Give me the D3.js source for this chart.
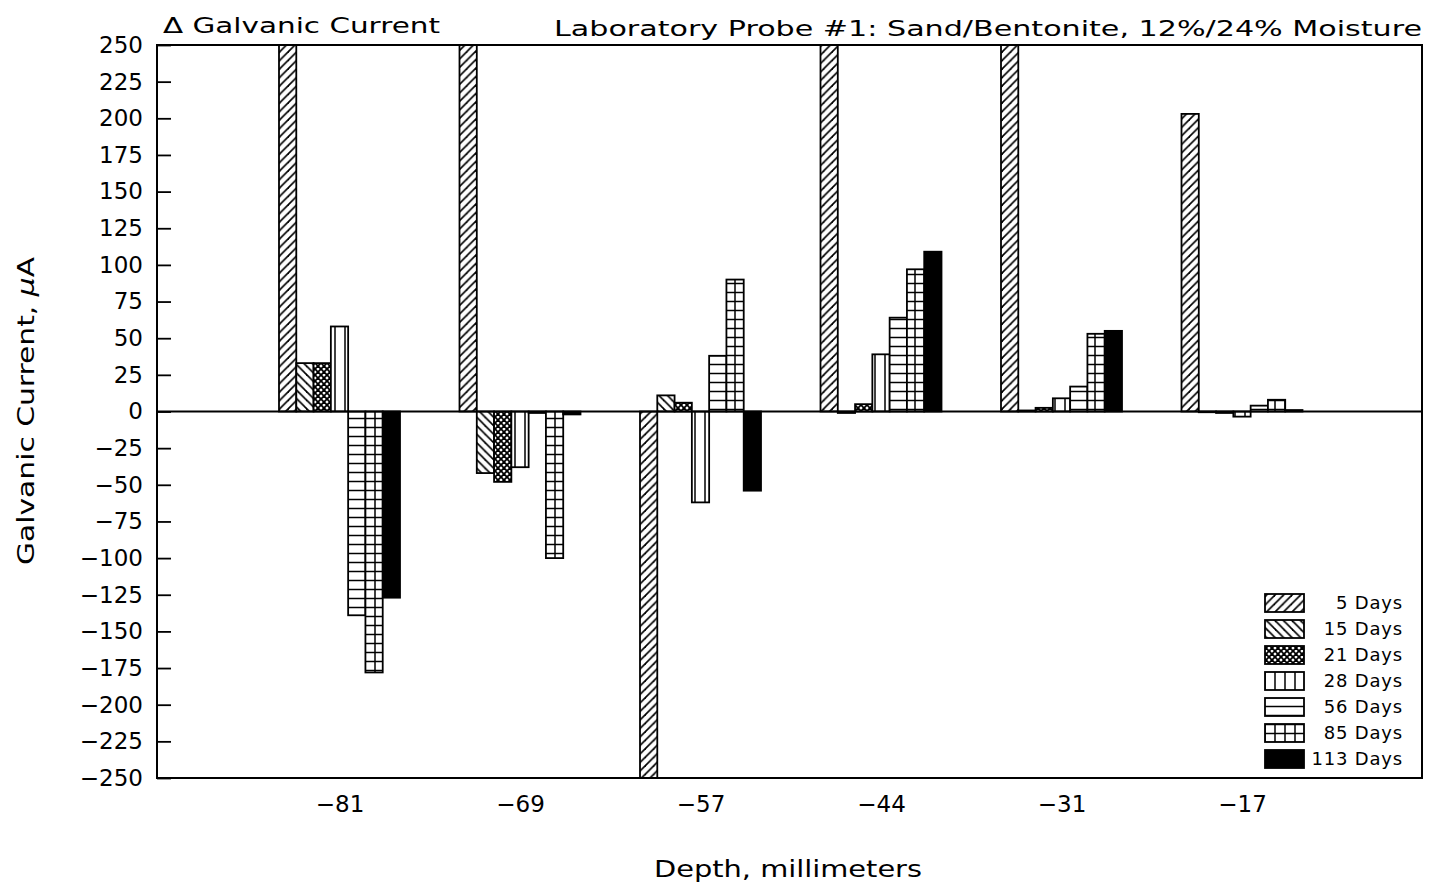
<!DOCTYPE html>
<html>
<head>
<meta charset="utf-8">
<script src="https://cdn.jsdelivr.net/npm/d3@7"></script>
<style>
  body { margin: 0; background: #fff; }
  text { font-family: "DejaVu Sans", sans-serif; fill: #000; }
</style>
</head>
<body>
<svg id="chart" width="1432" height="887"></svg>
<script>
// Probe depths (mm) and change in galvanic current (µA) per exposure period
const depths = [-81, -69, -57, -44, -31, -17];
const seriesNames = ["5 Days", "15 Days", "21 Days", "28 Days", "56 Days", "85 Days", "113 Days"];
const days5   = [300, 300, -300, 300, 300, 203];
const days15  = [33, -42, 11, -1, 0.7, -0.5];
const days21  = [33, -48, 6, 5, 2.5, -1];
const days28  = [58, -38, -62, 39, 9, -3.5];
const days56  = [-139, -1, 38, 64, 17, 4];
const days85  = [-178, -100, 90, 97, 53, 8];
const days113 = [-127, -2, -54, 109, 55, 1];
const yTicks = d3.range(-250, 251, 25);

const series = [days5, days15, days21, days28, days56, days85, days113];
const patternIds = ["p5", "p15", "p21", "p28", "p56", "p85", "p113"];

const svg = d3.select("#chart");
const plotL = 157, plotR = 1422, plotT = 45, plotB = 778;

// Depth groups are evenly spaced across the frame, one empty slot at each end
const x = d3.scalePoint().domain(depths).range([plotL + 182.5, plotR - 180]);
const groupW = 121;
const xSub = d3.scaleBand().domain(seriesNames).range([-groupW / 2, groupW / 2]);
const y = d3.scaleLinear().domain([-250, 250]).range([plotB, plotT]).clamp(true);

// Hatch fills
const defs = svg.append("defs");
function pat(id, w, h, draw) {
  const p = defs.append("pattern").attr("id", id)
    .attr("patternUnits", "userSpaceOnUse").attr("width", w).attr("height", h);
  p.append("rect").attr("width", w).attr("height", h).attr("fill", "#fff");
  draw(p);
}
const ln = (p, x1, y1, x2, y2, sw) => p.append("line")
  .attr("x1", x1).attr("y1", y1).attr("x2", x2).attr("y2", y2)
  .attr("stroke", "#000").attr("stroke-width", sw);
pat("p5", 8.5, 8.5, p => { ln(p, 0, 8.5, 8.5, 0, 1.7); ln(p, -2, 2, 2, -2, 1.7); ln(p, 6.5, 10.5, 10.5, 6.5, 1.7); });
pat("p15", 8.5, 8.5, p => { ln(p, 0, 0, 8.5, 8.5, 1.7); ln(p, -2, 6.5, 2, 10.5, 1.7); ln(p, 6.5, -2, 10.5, 2, 1.7); });
pat("p21", 6, 6, p => {
  ln(p, 0, 6, 6, 0, 1.8); ln(p, -1, 1, 1, -1, 1.8); ln(p, 5, 7, 7, 5, 1.8);
  ln(p, 0, 0, 6, 6, 1.8); ln(p, -1, 5, 1, 7, 1.8); ln(p, 5, -1, 7, 1, 1.8);
});
pat("p28", 10, 10, p => { ln(p, 5, 0, 5, 10, 1.5); });
pat("p56", 10, 9, p => { ln(p, 0, 4.5, 10, 4.5, 1.5); });
pat("p85", 10, 9, p => { ln(p, 5, 0, 5, 9, 1.5); ln(p, 0, 4.5, 10, 4.5, 1.5); });
defs.append("clipPath").attr("id", "plotClip").append("rect")
  .attr("x", plotL).attr("y", plotT).attr("width", plotR - plotL).attr("height", plotB - plotT);

const fillFor = i => i === 6 ? "#000" : `url(#${patternIds[i]})`;

// Bars
const bars = svg.append("g").attr("clip-path", "url(#plotClip)");
series.forEach((vals, si) => {
  bars.selectAll(null).data(vals.map((v, di) => ({ v, d: depths[di] })))
    .join("rect")
    .attr("x", d => x(d.d) + xSub(seriesNames[si]))
    .attr("width", xSub.bandwidth())
    .attr("y", d => Math.min(y(d.v), y(0)))
    .attr("height", d => Math.abs(y(d.v) - y(0)))
    .attr("fill", fillFor(si))
    .attr("stroke", "#000")
    .attr("stroke-width", 1.8);
});

// Zero line
svg.append("line").attr("x1", plotL).attr("x2", plotR)
  .attr("y1", y(0)).attr("y2", y(0)).attr("stroke", "#000").attr("stroke-width", 2);

// Frame
svg.append("rect").attr("x", plotL).attr("y", plotT)
  .attr("width", plotR - plotL).attr("height", plotB - plotT)
  .attr("fill", "none").attr("stroke", "#000").attr("stroke-width", 2);

// Y axis
const yAxis = svg.append("g").attr("transform", `translate(${plotL},0)`)
  .call(d3.axisLeft(y).tickValues(yTicks).tickSize(-14).tickPadding(14).tickFormat(d3.format("d")));
yAxis.select(".domain").remove();
yAxis.selectAll(".tick line").attr("stroke-width", 1.8);
yAxis.selectAll("text").style("font-size", "23px").style("font-family", "DejaVu Sans");

// X axis labels
const xAxis = svg.append("g").attr("transform", `translate(0,${plotB})`)
  .call(d3.axisBottom(x).tickSize(0).tickPadding(18).tickFormat(d3.format("d")));
xAxis.select(".domain").remove();
xAxis.selectAll("text").style("font-size", "23px").style("font-family", "DejaVu Sans");

// Titles
svg.append("text").attr("x", 163).attr("y", 33)
  .style("font-size", "22px").attr("textLength", 277).attr("lengthAdjust", "spacingAndGlyphs")
  .text("Δ Galvanic Current");
svg.append("text").attr("x", 1422).attr("y", 36).attr("text-anchor", "end")
  .style("font-size", "22px").attr("textLength", 868).attr("lengthAdjust", "spacingAndGlyphs")
  .text("Laboratory Probe #1: Sand/Bentonite, 12%/24% Moisture");

svg.append("text").attr("x", 788).attr("y", 877).attr("text-anchor", "middle")
  .style("font-size", "23px").attr("textLength", 268).attr("lengthAdjust", "spacingAndGlyphs")
  .text("Depth, millimeters");

const yt = svg.append("text").attr("transform", "translate(34,411) rotate(-90)")
  .attr("text-anchor", "middle").style("font-size", "23px")
  .attr("textLength", 308).attr("lengthAdjust", "spacingAndGlyphs");
yt.append("tspan").text("Galvanic Current, ");
yt.append("tspan").style("font-style", "italic").text("μ");
yt.append("tspan").text("A");

// Legend
const legend = svg.append("g");
seriesNames.forEach((name, i) => {
  const cy = 603 + i * 26;
  legend.append("rect").attr("x", 1265).attr("y", cy - 9).attr("width", 39).attr("height", 18)
    .attr("fill", fillFor(i)).attr("stroke", "#000").attr("stroke-width", 1.8);
  legend.append("text").attr("x", 1403).attr("y", cy).attr("dy", "0.36em")
    .attr("text-anchor", "end").style("font-size", "18px").style("letter-spacing", "0.8px")
    .text(name);
});
</script>
</body>
</html>
